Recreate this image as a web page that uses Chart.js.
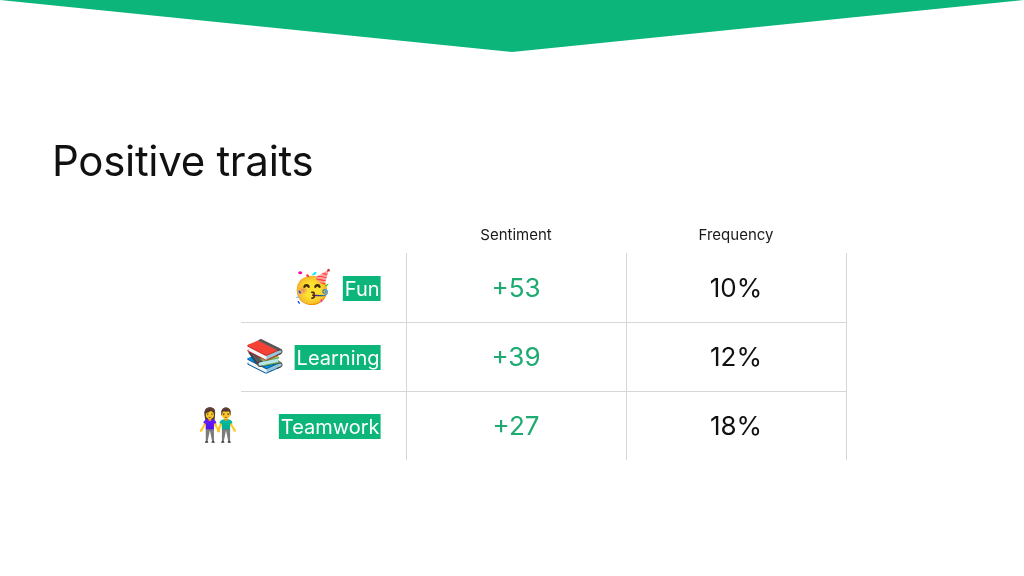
<!DOCTYPE html>
<html>
<head>
<meta charset="utf-8">
<script src="https://cdn.jsdelivr.net/npm/chart.js@4.4.1/dist/chart.umd.min.js"></script>
<style>
  html,body{margin:0;padding:0;background:#fff;}
  #wrap{position:relative;width:1024px;height:576px;overflow:hidden;}
  #title{position:absolute;left:52px;top:135px;font-family:Inter,"Open Sans",sans-serif;font-size:42px;font-weight:400;color:#111;letter-spacing:-0.3px;margin:0;}
  canvas{position:absolute;left:0;top:0;}
</style>
</head>
<body>
<div id="wrap">
  <canvas id="c" width="1024" height="576"></canvas>
  <div id="title">Positive traits</div>
</div>
<script>
const traits = ["Fun", "Learning", "Teamwork"];
const emojis = ["🥳", "📚", "👫"];
const columns = ["Sentiment", "Frequency"];
const sentiment = [53, 39, 27];
const frequency = [10, 12, 18];

const GREEN = "#0cb57a";
const VALUE_GREEN = "#1faa72";
const EMOJI_GAP = [11, 9, 41];

const tablePlugin = {
  id: "tablePlugin",
  beforeDraw(chart) {
    const ctx = chart.ctx;
    ctx.save();
    ctx.fillStyle = GREEN;
    ctx.beginPath();
    ctx.moveTo(0, 0);
    ctx.lineTo(1024, 0);
    ctx.lineTo(512, 52);
    ctx.closePath();
    ctx.fill();
    ctx.restore();
  },
  afterDatasetsDraw(chart) {
    const ctx = chart.ctx;
    const xs = chart.scales.x, ys = chart.scales.y;
    const area = chart.chartArea;
    ctx.save();
    ctx.strokeStyle = "#d6d6d6";
    ctx.lineWidth = 1;
    [0, 1, 2].forEach(v => {
      const px = Math.round(xs.getPixelForValue(v)) + 0.5;
      ctx.beginPath(); ctx.moveTo(px, area.top); ctx.lineTo(px, area.bottom); ctx.stroke();
    });
    for (let i = 0; i < traits.length - 1; i++) {
      const py = Math.round((ys.getPixelForValue(i) + ys.getPixelForValue(i + 1)) / 2) + 0.5;
      ctx.beginPath(); ctx.moveTo(area.left, py); ctx.lineTo(area.right, py); ctx.stroke();
    }
    ctx.fillStyle = "#1a1a1a";
    ctx.font = '400 15px Inter, "Open Sans", sans-serif';
    ctx.textAlign = "center";
    ctx.textBaseline = "middle";
    columns.forEach((c, i) => {
      ctx.fillText(c, xs.getPixelForValue(i + 0.5), area.top - 18);
    });
    traits.forEach((t, i) => {
      const py = ys.getPixelForValue(i) + 1;
      const right = xs.getPixelForValue(-0.12);
      ctx.font = '400 20px Inter, "Open Sans", sans-serif';
      const w = ctx.measureText(t).width;
      ctx.fillStyle = GREEN;
      ctx.fillRect(right - w - 2, py - 12.5, w + 3, 25);
      ctx.fillStyle = "#ffffff";
      ctx.textAlign = "right";
      ctx.fillText(t, right, py + 1);
      ctx.font = '32px "Noto Color Emoji", "Apple Color Emoji", "Segoe UI Emoji", "DejaVu Sans", sans-serif';
      ctx.fillText(emojis[i], right - w - 2 - EMOJI_GAP[i], py);
    });
    ctx.restore();
  }
};

const valueLabels = {
  id: "valueLabels",
  afterDatasetsDraw(chart) {
    const ctx = chart.ctx;
    ctx.save();
    ctx.textAlign = "center";
    ctx.textBaseline = "middle";
    ctx.font = '400 26px Inter, "Open Sans", sans-serif';
    chart.data.datasets.forEach((ds, di) => {
      const meta = chart.getDatasetMeta(di);
      meta.data.forEach((pt, i) => {
        ctx.fillStyle = ds.textColor;
        ctx.fillText(ds.fmt(ds.raw[i]), pt.x, pt.y + 2);
      });
    });
    ctx.restore();
  }
};

new Chart(document.getElementById("c"), {
  type: "scatter",
  data: {
    datasets: [
      { label: columns[0], raw: sentiment, textColor: VALUE_GREEN, fmt: v => "+" + v,
        data: sentiment.map((v, i) => ({ x: 0.5, y: i })), pointRadius: 0 },
      { label: columns[1], raw: frequency, textColor: "#111111", fmt: v => v + "%",
        data: frequency.map((v, i) => ({ x: 1.5, y: i })), pointRadius: 0 }
    ]
  },
  options: {
    responsive: false,
    animation: false,
    layout: { padding: { left: 241, right: 178, top: 253, bottom: 116 } },
    plugins: { legend: { display: false }, tooltip: { enabled: false }, title: { display: false } },
    scales: {
      x: { type: "linear", min: -0.75, max: 2, display: false },
      y: { type: "linear", min: -0.5, max: 2.5, reverse: true, display: false }
    }
  },
  plugins: [tablePlugin, valueLabels]
});
</script>
</body>
</html>
